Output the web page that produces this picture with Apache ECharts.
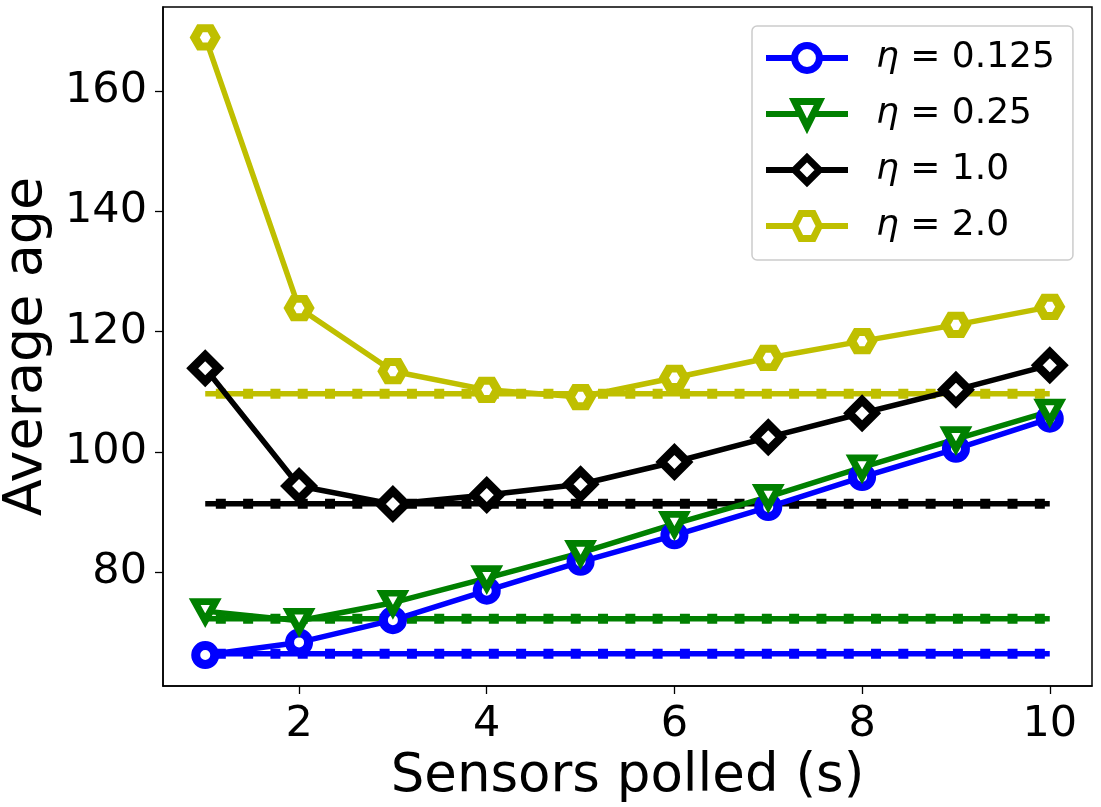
<!DOCTYPE html>
<html>
<head>
<meta charset="utf-8">
<script src="https://cdn.jsdelivr.net/npm/echarts@6/dist/echarts.min.js"></script>
<style>
  html, body { margin: 0; padding: 0; background: #fff; }
  #chart { width: 1101px; height: 807px; }
</style>
</head>
<body>
<div id="chart"></div>
<script>
// ---- data ----
const sensors = [1, 2, 3, 4, 5, 6, 7, 8, 9, 10];
const seriesNames = ['η = 0.125', 'η = 0.25', 'η = 1.0', 'η = 2.0'];
const eta0125 = [66.2, 68.3, 72.0, 76.9, 81.7, 86.1, 90.8, 95.8, 100.5, 105.5];
const eta025  = [73.5, 71.9, 74.9, 79.0, 83.2, 88.0, 92.5, 97.4, 102.1, 106.7];
const eta1    = [113.9, 94.3, 91.3, 92.8, 94.6, 98.3, 102.4, 106.4, 110.3, 114.4];
const eta2    = [168.9, 123.9, 113.4, 110.3, 109.1, 112.3, 115.6, 118.4, 121.1, 124.1];
const baselines = [66.4, 72.25, 91.37, 109.65];
const xTicks = [2, 4, 6, 8, 10];
const yTicks = [80, 100, 120, 140, 160];

const colors = ['#0000ff', '#008000', '#000000', '#bfbf00'];
const FONT = 'DejaVu Sans';
const curves = [eta0125, eta025, eta1, eta2];

const hexPath = 'path://M0,0.866 L0.5,0 L1.5,0 L2,0.866 L1.5,1.732 L0.5,1.732 Z';
const markerDefs = [
  { symbol: 'circle', symbolSize: 19, borderWidth: 9, rotate: 0 },
  { symbol: 'triangle', symbolSize: [21, 19], borderWidth: 7, rotate: 180 },
  { symbol: 'diamond', symbolSize: 26, borderWidth: 8.5, rotate: 0 },
  { symbol: hexPath, symbolSize: [21, 18.3], borderWidth: 8.5, rotate: 0 }
];

const series = [];
// horizontal reference lines (solid + square dashes)
baselines.forEach((b, i) => {
  const pts = [[sensors[0], b], [sensors[sensors.length - 1], b]];
  series.push({
    type: 'line', name: 'base' + i, data: pts, symbol: 'none', silent: true,
    lineStyle: { color: colors[i], width: 5.5, type: 'solid' }
  });
  series.push({
    type: 'line', name: 'basedash' + i, data: pts, symbol: 'none', silent: true,
    lineStyle: { color: colors[i], width: 10, type: [10, 17.3], dashOffset: 16.7, cap: 'butt' }
  });
});
// main curves
curves.forEach((vals, i) => {
  const m = markerDefs[i];
  series.push({
    type: 'line', name: seriesNames[i],
    data: sensors.map((x, k) => [x, vals[k]]),
    symbol: m.symbol, symbolSize: m.symbolSize, symbolRotate: m.rotate,
    showAllSymbol: true,
    lineStyle: { color: colors[i], width: 5.5 },
    itemStyle: { color: '#ffffff', borderColor: colors[i], borderWidth: m.borderWidth }
  });
});

const chart = echarts.init(document.getElementById('chart'), null, { renderer: 'canvas' });
chart.setOption({
  animation: false,
  backgroundColor: '#ffffff',
  grid: {
    left: 163, right: 9, top: 7, bottom: 121, containLabel: false, outerBoundsMode: 'none',
    show: true, borderColor: '#000', borderWidth: 1.5, backgroundColor: 'transparent'
  },
  xAxis: {
    type: 'value', min: 0.55, max: 10.45,
    axisLine: { show: true, lineStyle: { color: '#000', width: 1.5 } },
    axisTick: { show: true, length: 8, customValues: xTicks, lineStyle: { color: '#000', width: 1.3 } },
    axisLabel: { customValues: xTicks, fontFamily: FONT, fontSize: 43, color: '#000', margin: 17 },
    splitLine: { show: false },
    name: 'Sensors polled (s)', nameLocation: 'middle', nameGap: 62,
    nameTextStyle: { fontFamily: FONT, fontSize: 53, color: '#000' }
  },
  yAxis: {
    type: 'value', min: 61.05, max: 173.96,
    axisLine: { show: true, lineStyle: { color: '#000', width: 1.5 } },
    axisTick: { show: true, length: 8, customValues: yTicks, lineStyle: { color: '#000', width: 1.3 } },
    axisLabel: { customValues: yTicks, fontFamily: FONT, fontSize: 43, color: '#000', margin: 16 },
    splitLine: { show: false },
    name: 'Average age', nameLocation: 'middle', nameGap: 109,
    nameTextStyle: { fontFamily: FONT, fontSize: 54, color: '#000' }
  },
  legend: {
    data: seriesNames,
    orient: 'vertical', left: 752, top: 26,
    itemWidth: 82, itemHeight: 31, itemGap: 20,
    padding: [14, 18, 16, 11],
    backgroundColor: '#ffffff', borderColor: '#cccccc', borderWidth: 1.5, borderRadius: 5,
    itemStyle: { color: '#ffffff', borderWidth: 7 },
    lineStyle: { width: 6 },
    formatter: n => '{i|η}' + n.slice(1),
    textStyle: {
      fontFamily: FONT, fontSize: 36, color: '#000', lineHeight: 36, padding: [0, 0, 0, 23],
      rich: { i: { fontFamily: FONT, fontSize: 36, fontStyle: 'italic', color: '#000', lineHeight: 36 } }
    }
  },
  series: series
});
</script>
</body>
</html>
